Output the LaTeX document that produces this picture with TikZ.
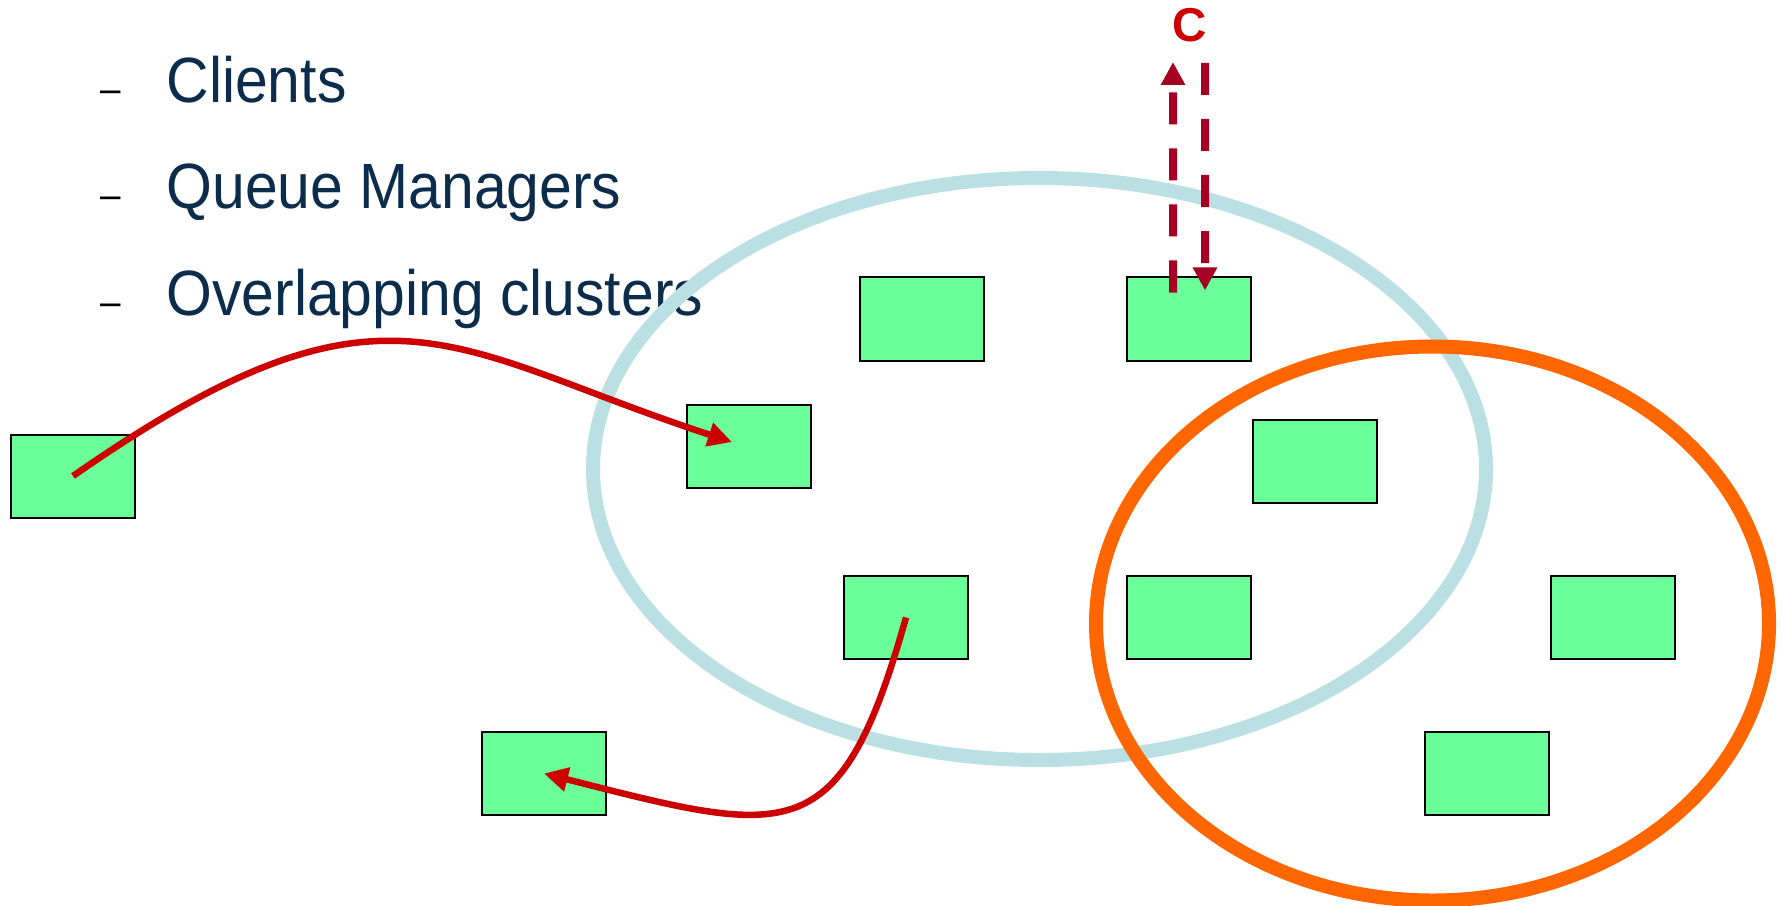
\documentclass[tikz,border=0pt]{standalone}
\usepackage{fontspec}
\setmainfont{Liberation Sans}
\newfontfamily\bodyfont[FakeStretch=0.92]{Liberation Sans}
\usetikzlibrary{arrows.meta}
\definecolor{txtnavy}{HTML}{0B2D4B}
\definecolor{qmgreen}{HTML}{6AFF99}
\definecolor{clblue}{HTML}{BBE0E3}
\definecolor{clorange}{HTML}{FF6600}
\definecolor{flowred}{HTML}{CC0000}
\definecolor{dashred}{HTML}{A50021}
\begin{document}
\begin{tikzpicture}[x=0.4pt,y=-0.4pt,
  qm/.style={draw=black,line width=0.8pt,fill=qmgreen,minimum width=49.6pt,minimum height=33.2pt,inner sep=0pt},
  bullet/.style={anchor=base west,inner sep=0pt,text=txtnavy,font=\bodyfont\fontsize{25.6}{30}\selectfont},
  dashmark/.style={anchor=base west,inner sep=0pt,text=black,font=\bodyfont\fontsize{16}{18}\selectfont},
  flow/.style={draw=flowred,line width=2.6pt,-{Triangle[length=9.6pt,width=9.4pt]}},
  dasharrow/.style={draw=dashred,line width=3.2pt,dash pattern=on 12.8pt off 9.6pt,-{Triangle[length=9.2pt,width=9.2pt]}},
  cluster/.style={line width=5.6pt},
]
\useasboundingbox (0,0) rectangle (1783,905);

% bullet list
\node[dashmark] (d1) at (100,103) {–};
\node[dashmark] (d2) at (100,209) {–};
\node[dashmark] (d3) at (100,315) {–};
\node[bullet] (t1) at (166,103) {Clients};
\node[bullet] (t2) at (166,209) {Queue Managers};
\node[bullet] (t3) at (166,315) {Overlapping clusters};

% clusters
\draw[cluster,draw=clblue] (1039.5,469) ellipse [x radius=446.5, y radius=291];
\draw[cluster,draw=clorange] (1432.5,623.5) ellipse [x radius=336.5, y radius=277];

% queue managers / clients
\node[qm] (A) at (73,476) {};
\node[qm] (B) at (749,446.5) {};
\node[qm] (C) at (922,319) {};
\node[qm] (D) at (1189,319) {};
\node[qm] (E) at (1315,461) {};
\node[qm] (F) at (906,617.5) {};
\node[qm] (G) at (1189,617.5) {};
\node[qm] (H) at (1613,617) {};
\node[qm] (I) at (1487,773.5) {};
\node[qm] (J) at (544,773.5) {};

% flows
\draw[flow] (A.center) .. controls (386,258) and (447,349) .. ([xshift=-6.8pt,yshift=1.8pt]B.center);
\draw[flow] (F.center) .. controls (840,852) and (790,836) .. (J.center);

% client connection
\node[inner sep=0pt,text=flowred,font=\bfseries\fontsize{19}{22}\selectfont] (lblC) at (1190,25) {C};
\coordinate (cup) at (1173,62);
\coordinate (cdn) at (1205,63);
\draw[dasharrow] ([xshift=-6.4pt,yshift=-6.4pt]D.north) -- (cup);
\draw[dasharrow] (cdn) -- ([xshift=6.4pt,yshift=-5.6pt]D.north);
\end{tikzpicture}
\end{document}
